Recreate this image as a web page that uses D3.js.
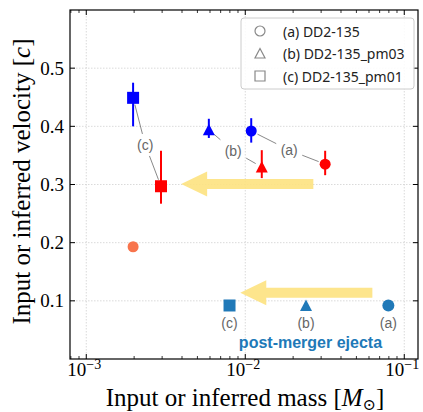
<!DOCTYPE html>
<html>
<head>
<meta charset="utf-8">
<script src="https://cdn.jsdelivr.net/npm/d3@7"></script>
<style>
  body { margin: 0; background: white; }
  svg { display: block; }
</style>
</head>
<body>
<div id="chart"></div>
<script>
// ----------------------------------------
// DATA
// ----------------------------------------
const models = ["(a)", "(b)", "(c)"];
const shapes = ["circle", "triangle", "square"];
const legendNames = ["(a) DD2-135", "(b) DD2-135_pm03", "(c) DD2-135_pm01"];

// blue: dynamical ejecta, input
const blueMass = [0.0109, 0.0059, 0.00197];
const blueVel = [0.392, 0.394, 0.449];
const blueLo = [0.372, 0.380, 0.400];
const blueHi = [0.414, 0.413, 0.475];

// red: inferred
const redMass = [0.0318, 0.0127, 0.00295];
const redVel = [0.335, 0.330, 0.297];
const redLo = [0.316, 0.311, 0.267];
const redHi = [0.358, 0.359, 0.358];

// label positions for (a)(b)(c) between blue and red
const labelMass = [0.0189, 0.0084, 0.00235];
const labelVel = [0.359, 0.358, 0.368];

// lone orange point
const orangeMass = [0.00197];
const orangeVel = [0.193];

// post-merger ejecta
const pmMass = [0.0794, 0.0241, 0.00796];
const pmVel = [0.092, 0.092, 0.092];
const pmText = { mass: 0.0257, vel: 0.019, text: "post-merger ejecta" };

// yellow arrows [from, to]
const arrows = [
  { x0: 0.0268, y0: 0.301, x1: 0.00395, y1: 0.301 },
  { x0: 0.063, y0: 0.114, x1: 0.0093, y1: 0.114 }
];

const xTicks = [1e-3, 1e-2, 1e-1];
const xTickExp = ["\u22123", "\u22122", "\u22121"];
const yTicks = [0.1, 0.2, 0.3, 0.4, 0.5];

// ----------------------------------------
// SETUP
// ----------------------------------------
const width = 423, height = 412;
const margin = { top: 10, right: 5, bottom: 53, left: 70 };
const iw = width - margin.left - margin.right;
const ih = height - margin.top - margin.bottom;

const serif = "'Liberation Serif', 'DejaVu Serif', serif";
const sans = "'Noto Sans', 'DejaVu Sans', sans-serif";
const arial = "'Liberation Sans', Arial, sans-serif";

const svg = d3.select("#chart").append("svg")
  .attr("width", width).attr("height", height);

const g = svg.append("g")
  .attr("transform", `translate(${margin.left},${margin.top})`);

const x = d3.scaleLog().domain([7.9e-4, 0.122]).range([0, iw]);
const y = d3.scaleLinear().domain([0, 0.6]).range([ih, 0]);

const blue = "#0000ff", red = "#ff0000", orange = "#f8744c", pmBlue = "#2079b8";
const gray = "#666";

// ----------------------------------------
// GRID
// ----------------------------------------
g.selectAll(".gx").data(xTicks).join("line")
  .attr("x1", d => x(d)).attr("x2", d => x(d))
  .attr("y1", 0).attr("y2", ih)
  .attr("stroke", "#d0d0d0").attr("stroke-width", 0.8)
  .attr("stroke-dasharray", "1.5,1.5");

g.selectAll(".gy").data(yTicks).join("line")
  .attr("x1", 0).attr("x2", iw)
  .attr("y1", d => y(d)).attr("y2", d => y(d))
  .attr("stroke", "#d0d0d0").attr("stroke-width", 0.8)
  .attr("stroke-dasharray", "1.5,1.5");

// ----------------------------------------
// ARROWS
// ----------------------------------------
function arrowPath(a) {
  const px0 = x(a.x0), py0 = y(a.y0), px1 = x(a.x1), py1 = y(a.y1);
  const dx = px1 - px0, dy = py1 - py0, L = Math.hypot(dx, dy);
  const ux = dx / L, uy = dy / L, nx = -uy, ny = ux;
  const sw = 5, hw = 12.5, hl = 26;
  const bx = px1 - ux * hl, by = py1 - uy * hl;
  const pts = [
    [px0 + nx * sw, py0 + ny * sw],
    [bx + nx * sw, by + ny * sw],
    [bx + nx * hw, by + ny * hw],
    [px1, py1],
    [bx - nx * hw, by - ny * hw],
    [bx - nx * sw, by - ny * sw],
    [px0 - nx * sw, py0 - ny * sw]
  ];
  return "M" + pts.map(p => p.join(",")).join("L") + "Z";
}

g.selectAll(".arrow").data(arrows).join("path")
  .attr("d", arrowPath)
  .attr("fill", "#fde27f")
  .attr("opacity", 0.9);

// ----------------------------------------
// MARKERS
// ----------------------------------------
function symbolPath(shape, size) {
  if (shape === "circle") return d3.symbol(d3.symbolCircle, size * size * Math.PI / 4)();
  if (shape === "square") return d3.symbol(d3.symbolSquare, size * size)();
  const h = size * 0.5;
  return `M0,${-h}L${h},${h * 0.9}L${-h},${h * 0.9}Z`;
}

// annotation lines from labels to blue and red points
function clipLine(lx, ly, px, py) {
  const dx = px - lx, dy = py - ly;
  const bw = 13, bh = 11, shrink = 7;
  const t = Math.min(bw / Math.abs(dx || 1e-9), bh / Math.abs(dy || 1e-9));
  const L = Math.hypot(dx, dy);
  const te = 1 - shrink / L;
  return [lx + dx * t, ly + dy * t, lx + dx * te, ly + dy * te];
}

models.forEach((m, i) => {
  const lx = x(labelMass[i]), ly = y(labelVel[i]);
  [[blueMass[i], blueVel[i]], [redMass[i], redVel[i]]].forEach(([mx, vy]) => {
    const c = clipLine(lx, ly, x(mx), y(vy));
    g.append("line")
      .attr("x1", c[0]).attr("y1", c[1]).attr("x2", c[2]).attr("y2", c[3])
      .attr("stroke", "#555").attr("stroke-width", 0.7);
  });
  g.append("text")
    .attr("x", lx).attr("y", ly)
    .attr("text-anchor", "middle").attr("dominant-baseline", "central")
    .attr("fill", gray).style("font-family", arial).style("font-size", "14px")
    .text(m);
});

function drawSet(mass, vel, lo, hi, color) {
  mass.forEach((m, i) => {
    g.append("line")
      .attr("x1", x(m)).attr("x2", x(m))
      .attr("y1", y(lo[i])).attr("y2", y(hi[i]))
      .attr("stroke", color).attr("stroke-width", 2);
    g.append("path")
      .attr("d", symbolPath(shapes[i], shapes[i] === "circle" ? 11 : 12))
      .attr("transform", `translate(${x(m)},${y(vel[i])})`)
      .attr("fill", color);
  });
}

drawSet(blueMass, blueVel, blueLo, blueHi, blue);
drawSet(redMass, redVel, redLo, redHi, red);

g.selectAll(".orange").data(orangeMass).join("circle")
  .attr("cx", d => x(d)).attr("cy", (d, i) => y(orangeVel[i]))
  .attr("r", 5.5).attr("fill", orange);

// post-merger
pmMass.forEach((m, i) => {
  g.append("path")
    .attr("d", symbolPath(shapes[i], 12))
    .attr("transform", `translate(${x(m)},${y(pmVel[i])})`)
    .attr("fill", pmBlue);
  g.append("text")
    .attr("x", x(m)).attr("y", y(pmVel[i]) + 18)
    .attr("text-anchor", "middle").attr("dominant-baseline", "central")
    .attr("fill", gray).style("font-family", arial).style("font-size", "14px")
    .text(models[i]);
});

g.append("text")
  .attr("x", x(pmText.mass)).attr("y", y(pmText.vel))
  .attr("text-anchor", "middle")
  .attr("fill", pmBlue).style("font-family", arial)
  .style("font-size", "16px").style("font-weight", "bold")
  .text(pmText.text);

// ----------------------------------------
// FRAME + TICKS
// ----------------------------------------
g.append("rect")
  .attr("width", iw).attr("height", ih)
  .attr("fill", "none").attr("stroke", "black").attr("stroke-width", 1.2);

const minorX = [];
[1e-4, 1e-3, 1e-2, 1e-1].forEach(dec => {
  for (let k = 2; k <= 9; k++) {
    const v = dec * k;
    if (v > x.domain()[0] && v < x.domain()[1]) minorX.push(v);
  }
});

[0, ih].forEach(yy => {
  const dir = yy === 0 ? 1 : -1;
  g.selectAll(null).data(xTicks).join("line")
    .attr("x1", d => x(d)).attr("x2", d => x(d))
    .attr("y1", yy).attr("y2", yy + dir * 5)
    .attr("stroke", "black").attr("stroke-width", 1);
  g.selectAll(null).data(minorX).join("line")
    .attr("x1", d => x(d)).attr("x2", d => x(d))
    .attr("y1", yy).attr("y2", yy + dir * 3)
    .attr("stroke", "black").attr("stroke-width", 0.8);
});

[0, iw].forEach(xx => {
  const dir = xx === 0 ? 1 : -1;
  g.selectAll(null).data(yTicks).join("line")
    .attr("x1", xx).attr("x2", xx + dir * 5)
    .attr("y1", d => y(d)).attr("y2", d => y(d))
    .attr("stroke", "black").attr("stroke-width", 1);
});

// tick labels
g.selectAll(".ytl").data(yTicks).join("text")
  .attr("x", -6).attr("y", d => y(d))
  .attr("text-anchor", "end").attr("dominant-baseline", "central")
  .style("font-family", serif).style("font-size", "19px")
  .text(d => d.toFixed(1));

const xtl = g.selectAll(".xtl").data(xTicks).join("text")
  .attr("x", d => x(d) - 2).attr("y", ih + 17)
  .attr("text-anchor", "middle")
  .style("font-family", serif).style("font-size", "19px");
xtl.append("tspan").text("10");
xtl.append("tspan").attr("dy", -7).style("font-size", "14px")
  .text((d, i) => xTickExp[i]);

// axis titles
const xt = g.append("text")
  .attr("x", iw / 2 + 1).attr("y", ih + 47)
  .attr("text-anchor", "middle")
  .style("font-family", serif).style("font-size", "25px");
xt.append("tspan").text("Input or inferred mass [");
xt.append("tspan").style("font-style", "italic").text("M");
xt.append("tspan").attr("dy", 4).style("font-size", "16px").text("\u2299");
xt.append("tspan").attr("dy", -4).text("]");

const yt = g.append("text")
  .attr("transform", `translate(${-margin.left + 30},${ih / 2 - 3}) rotate(-90)`)
  .attr("text-anchor", "middle")
  .style("font-family", serif).style("font-size", "25px");
yt.append("tspan").text("Input or inferred velocity [");
yt.append("tspan").style("font-style", "italic").text("c");
yt.append("tspan").text("]");

// ----------------------------------------
// LEGEND
// ----------------------------------------
const leg = g.append("g").attr("transform", `translate(${241 - margin.left},${18 - margin.top})`);
leg.append("rect")
  .attr("width", 173).attr("height", 71).attr("rx", 3)
  .attr("fill", "white").attr("fill-opacity", 0.85)
  .attr("stroke", "#ccc").attr("stroke-width", 1);

legendNames.forEach((name, i) => {
  const yy = 13 + i * 22.5;
  leg.append("path")
    .attr("d", symbolPath(shapes[i], 10))
    .attr("transform", `translate(19,${yy})`)
    .attr("fill", "none").attr("stroke", "#888").attr("stroke-width", 1.2);
  leg.append("text")
    .attr("x", 42).attr("y", yy)
    .attr("dominant-baseline", "central")
    .style("font-family", sans).style("font-size", "14px")
    .attr("fill", "#222")
    .text(name);
});
</script>
</body>
</html>
